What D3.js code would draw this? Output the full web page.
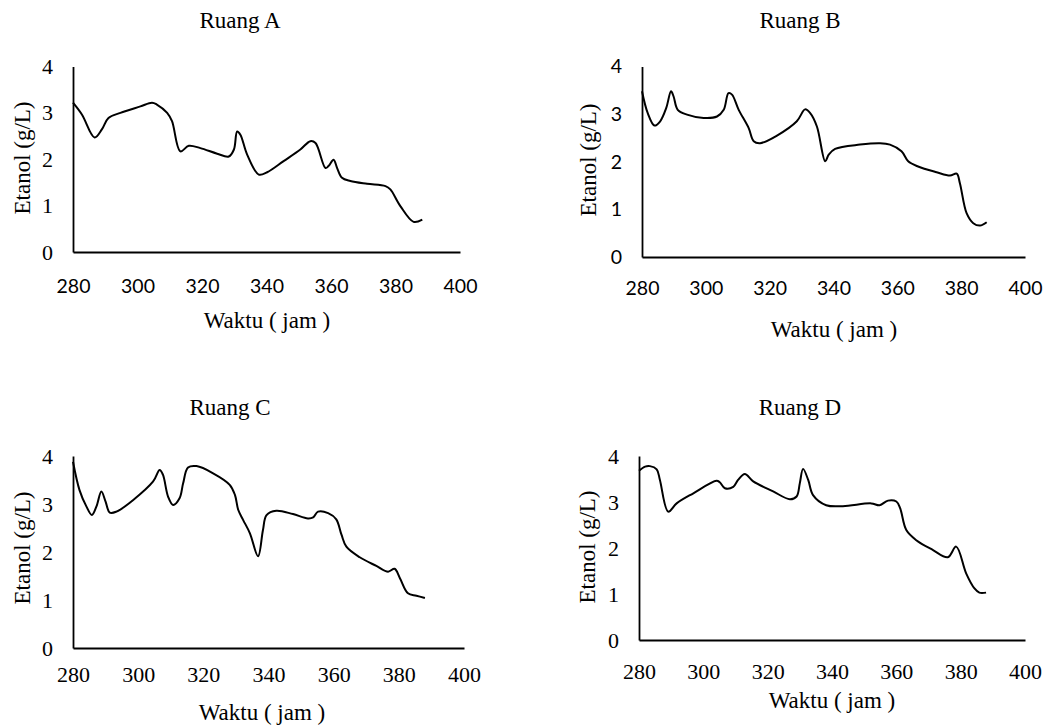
<!DOCTYPE html>
<html>
<head>
<meta charset="utf-8">
<script src="https://cdn.jsdelivr.net/npm/d3@7"></script>
<style>
  body { margin: 0; background: #fff; }
  svg { display: block; }
</style>
</head>
<body>
<svg id="chart" width="1049" height="727"></svg>
<script>
// x axis ticks and y axis ticks shared by all four panels
var xTicks = [280, 300, 320, 340, 360, 380, 400]
var yTicks = [0, 1, 2, 3, 4]

// Ruang A
var timeA = [280, 282.8, 286.7, 289, 291, 294.7, 300.9, 304.5, 306, 309.2, 310.7, 313.3, 315.9, 319.5, 324.7, 328.3, 329.9, 330.9, 331.9, 334, 337.6, 340.2, 345.3, 350.5, 353.6, 355.2, 358.3, 359.3, 360.8, 361.9, 363.4, 366, 371.2, 376.9, 378.4, 381.5, 385.6, 388.3]
var etanolA = [3.22, 2.96, 2.47, 2.65, 2.89, 3.0, 3.14, 3.22, 3.18, 3.0, 2.82, 2.17, 2.29, 2.24, 2.12, 2.06, 2.21, 2.6, 2.53, 2.1, 1.67, 1.72, 1.96, 2.21, 2.39, 2.35, 1.81, 1.86, 1.99, 1.81, 1.6, 1.53, 1.47, 1.42, 1.35, 0.99, 0.65, 0.7]

// Ruang B
var timeB = [280, 281.8, 283.9, 285.7, 287.6, 289.1, 289.9, 291.2, 294.1, 299.3, 303.5, 305.6, 307.1, 308.2, 310.3, 313.4, 315, 317, 322.3, 328.5, 331.1, 332.7, 334.8, 337.4, 338.5, 340.5, 348.3, 354.6, 357.7, 361.3, 363.4, 366.5, 372.3, 376.5, 378.6, 379.6, 381.7, 383.8, 385.9, 388]
var etanolB = [3.48, 3.02, 2.76, 2.85, 3.13, 3.48, 3.37, 3.09, 2.99, 2.92, 2.95, 3.09, 3.44, 3.41, 3.09, 2.71, 2.43, 2.39, 2.55, 2.85, 3.1, 3.02, 2.74, 2.01, 2.15, 2.27, 2.36, 2.39, 2.36, 2.22, 2.01, 1.9, 1.78, 1.71, 1.75, 1.55, 0.92, 0.71, 0.66, 0.73]

// Ruang C
var timeC = [280, 282, 284.1, 285.8, 287.2, 288.7, 290, 291.3, 293.3, 298.4, 304.6, 306.6, 307.6, 309.2, 310.7, 312.7, 313.8, 315.3, 317.9, 323, 328.1, 329.7, 330.7, 332.2, 334.3, 336.8, 338.3, 339.4, 342.4, 347.5, 352.1, 353.7, 355.2, 358.3, 360.8, 362.4, 363.9, 368, 373.1, 376.7, 378.7, 380.3, 382.8, 385.4, 388]
var etanolC = [3.88, 3.29, 2.95, 2.77, 2.95, 3.26, 3.05, 2.82, 2.84, 3.08, 3.47, 3.71, 3.61, 3.15, 2.98, 3.12, 3.43, 3.76, 3.79, 3.64, 3.4, 3.19, 2.88, 2.67, 2.39, 1.91, 2.46, 2.77, 2.86, 2.79, 2.7, 2.72, 2.84, 2.81, 2.68, 2.36, 2.11, 1.89, 1.71, 1.59, 1.65, 1.46, 1.14, 1.09, 1.04]

// Ruang D
var timeD = [280, 281.9, 283.4, 285.5, 286.5, 289.1, 291.7, 296.9, 304.1, 305.1, 306.7, 309.3, 310.8, 312.9, 315.5, 321.7, 326.9, 329, 330, 331, 332.6, 334.1, 338.2, 343.4, 352.2, 354.8, 357.4, 360, 361.2, 363.1, 366.2, 371.3, 376, 378.6, 381.7, 384.3, 385.8, 387.9]
var etanolD = [3.68, 3.77, 3.78, 3.71, 3.48, 2.79, 2.97, 3.19, 3.46, 3.43, 3.3, 3.33, 3.48, 3.61, 3.45, 3.23, 3.06, 3.12, 3.41, 3.72, 3.48, 3.15, 2.93, 2.91, 2.97, 2.93, 3.03, 3.01, 2.86, 2.39, 2.17, 1.96, 1.8, 2.03, 1.45, 1.12, 1.03, 1.03]

var titles = ['Ruang A', 'Ruang B', 'Ruang C', 'Ruang D']
var xTitle = 'Waktu ( jam )'
var yTitle = 'Etanol (g/L)'

var serif = '"Liberation Serif", "Times New Roman", serif'
var sans = 'Lato, "Liberation Sans", sans-serif'

// layout of each panel (pixel boxes)
var panels = [
  { t: timeA, v: etanolA, left: 73, right: 460, top: 66.5, bottom: 252,
    titleX: 240, titleY: 28, xLabX: 267, xLabY: 328, yLabX: 30, yLabY: 158,
    yFont: serif, xFont: sans, xTickBase: 41 },
  { t: timeB, v: etanolB, left: 642, right: 1025, top: 66.5, bottom: 257,
    titleX: 800, titleY: 28, xLabX: 834, xLabY: 337, yLabX: 596, yLabY: 160,
    yFont: sans, xFont: sans, xTickBase: 38 },
  { t: timeC, v: etanolC, left: 73, right: 464, top: 456, bottom: 648,
    titleX: 230, titleY: 415, xLabX: 262, xLabY: 720, yLabX: 30, yLabY: 548,
    yFont: serif, xFont: serif, xTickBase: 34 },
  { t: timeD, v: etanolD, left: 639, right: 1025, top: 456, bottom: 640,
    titleX: 800, titleY: 415, xLabX: 832, xLabY: 708, yLabX: 595, yLabY: 547,
    yFont: serif, xFont: serif, xTickBase: 39 }
]

var svg = d3.select('#chart')

panels.forEach(function (p, i) {
  var x = d3.scaleLinear().domain([280, 400]).range([p.left, p.right])
  var y = d3.scaleLinear().domain([0, 4]).range([p.bottom, p.top])

  var g = svg.append('g')

  // chart title
  g.append('text')
    .attr('x', p.titleX)
    .attr('y', p.titleY)
    .attr('text-anchor', 'middle')
    .style('font-family', serif)
    .style('font-size', '23px')
    .text(titles[i])

  // y axis (no tick marks, labels only)
  var yFs = p.yFont === sans ? 19.5 : 22
  var yAx = g.append('g')
    .attr('transform', 'translate(' + p.left + ',0)')
    .call(d3.axisLeft(y).tickValues(yTicks).tickSize(0).tickPadding(20).tickFormat(d3.format('d')))
  yAx.select('.domain').attr('stroke', '#000').attr('stroke-width', 1.8)
  yAx.selectAll('text')
    .style('font-family', p.yFont)
    .style('font-size', yFs + 'px')
    .attr('fill', '#000')

  // x axis
  var xFs = p.xFont === sans ? 19.5 : 22
  var xAx = g.append('g')
    .attr('transform', 'translate(0,' + p.bottom + ')')
    .call(d3.axisBottom(x).tickValues(xTicks).tickSize(0).tickPadding(p.xTickBase - xFs * 0.71).tickFormat(d3.format('d')))
  xAx.select('.domain').attr('stroke', '#000').attr('stroke-width', 1.8)
  xAx.selectAll('text')
    .style('font-family', p.xFont)
    .style('font-size', xFs + 'px')
    .attr('fill', '#000')

  // axis titles
  g.append('text')
    .attr('x', p.xLabX)
    .attr('y', p.xLabY)
    .attr('text-anchor', 'middle')
    .style('font-family', serif)
    .style('font-size', '23px')
    .text(xTitle)

  g.append('text')
    .attr('transform', 'translate(' + p.yLabX + ',' + p.yLabY + ') rotate(-90)')
    .attr('text-anchor', 'middle')
    .style('font-family', serif)
    .style('font-size', '23px')
    .text(yTitle)

  // the smoothed ethanol curve
  var line = d3.line()
    .x(function (d, k) { return x(p.t[k]) })
    .y(function (d) { return y(d) })
    .curve(d3.curveCatmullRom.alpha(0.5))

  g.append('path')
    .datum(p.v)
    .attr('fill', 'none')
    .attr('stroke', '#000')
    .attr('stroke-width', 2)
    .attr('d', line)
})
</script>
</body>
</html>
